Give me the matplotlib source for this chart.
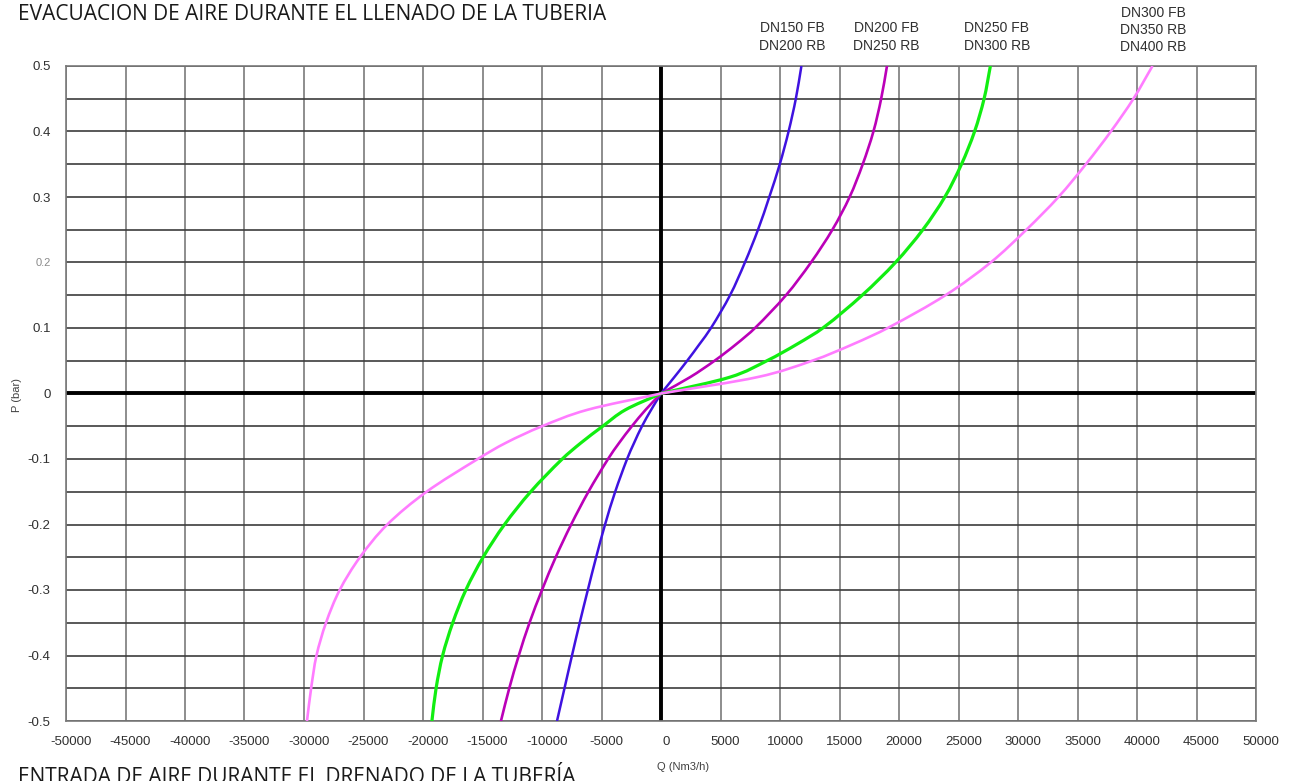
"""Curva de caudal de aire de ventosas: evacuación (P>0) y entrada (P<0)."""

import matplotlib

matplotlib.use("Agg")
import matplotlib.pyplot as plt
from matplotlib.path import Path
from matplotlib.patches import PathPatch
from matplotlib.transforms import ScaledTranslation

# ── Datos ─────────────────────────────────────────────────────────

P_LEVELS = [0, 0.025, 0.05, 0.075, 0.1, 0.15, 0.2, 0.25, 0.3, 0.35, 0.4, 0.45, 0.5]

# Q (Nm3/h) en cada nivel de presión, evacuación (P positiva)
Q_POS_DN150 = [0, 1120, 2200, 3220, 4200, 5800, 7050, 8150, 9100, 9980, 10720, 11330, 11800]
Q_POS_DN200 = [0, 2450, 4500, 6300, 7900, 10500, 12600, 14400, 15850, 16950, 17850, 18500, 18990]
Q_POS_DN250 = [0, 5800, 8900, 11400, 13600, 16900, 19700, 22000, 23850, 25250, 26350, 27150, 27680]
Q_POS_DN300 = [0, 8100, 12700, 16100, 19050, 23900, 27700, 30700, 33400, 35700, 37800, 39700, 41300]

# Q (Nm3/h) en cada nivel de depresión, entrada (P negativa)
Q_NEG_DN150 = [0, -830, -1600, -2250, -2850, -3850, -4700, -5450, -6150, -6830, -7480, -8110, -8740]
Q_NEG_DN200 = [0, -1300, -2450, -3500, -4450, -6100, -7550, -8850, -10000, -11050, -11950, -12750, -13450]
Q_NEG_DN250 = [0, -3000, -4900, -6700, -8300, -10950, -13150, -14950, -16400, -17500, -18350, -18900, -19250]
Q_NEG_DN300 = [0, -6200, -10000, -13000, -15400, -19700, -23000, -25300, -27000, -28150, -28950, -29400, -29750]

SERIES_LABELS = ["DN150 FB\nDN200 RB", "DN200 FB\nDN250 RB", "DN250 FB\nDN300 RB",
                 "DN300 FB\nDN350 RB\nDN400 RB"]

X_TICKS = list(range(-50000, 50001, 5000))
X_TICK_LABELS = [str(v) for v in X_TICKS]
Y_TICKS = [0.5, 0.4, 0.3, 0.2, 0.1, 0, -0.1, -0.2, -0.3, -0.4, -0.5]
Y_TICK_LABELS = ["0.5", "0.4", "0.3", "0.2", "0.1", "0", "-0.1", "-0.2", "-0.3", "-0.4", "-0.5"]

TITLE_TOP = "EVACUACION DE AIRE DURANTE EL LLENADO DE LA TUBERIA"
TITLE_BOTTOM = "ENTRADA DE AIRE DURANTE EL DRENADO DE LA TUBERÍA"

COLORS = ["#3f12e0", "#bb00b8", "#11ee11", "#ff7cff"]
WIDTHS = [1.8, 1.9, 2.3, 1.9]

W, H = 1296, 781


def fx(px):
    return px / W


def fy(py):
    return 1 - py / H


def smooth_path(q, p):
    """Curva suave (Hermite en P) que pasa por los puntos leídos."""
    t = [abs(v) for v in p]
    n = len(q)
    slopes = []
    for i in range(n):
        a, b = max(i - 1, 0), min(i + 1, n - 1)
        dt = t[b] - t[a]
        slopes.append(((q[b] - q[a]) / dt, (p[b] - p[a]) / dt))
    verts = [(q[0], p[0])]
    codes = [Path.MOVETO]
    for i in range(n - 1):
        h = (t[i + 1] - t[i]) / 3
        verts += [
            (q[i] + slopes[i][0] * h, p[i] + slopes[i][1] * h),
            (q[i + 1] - slopes[i + 1][0] * h, p[i + 1] - slopes[i + 1][1] * h),
            (q[i + 1], p[i + 1]),
        ]
        codes += [Path.CURVE4] * 3
    return Path(verts, codes)


def main():
    fig = plt.figure(figsize=(W / 100, H / 100), dpi=100)
    ax = fig.add_axes([fx(66), fy(721), fx(1256) - fx(66), fy(66) - fy(721)])

    ax.set_xlim(-50000, 50000)
    ax.set_ylim(-0.5, 0.5)

    # rejilla: horizontales oscuras cada 0.05, verticales grises cada 5000
    for v in X_TICKS:
        ax.axvline(v, color="#7a7a7a", lw=1.2, zorder=1)
    for i in range(-10, 11):
        ax.axhline(i * 0.05, color="#3c3c3c", lw=1.2, zorder=1)

    ax.axhline(0, color="black", lw=2.8, zorder=2)
    ax.axvline(0, color="black", lw=2.8, zorder=2)

    pos = [Q_POS_DN150, Q_POS_DN200, Q_POS_DN250, Q_POS_DN300]
    neg = [Q_NEG_DN150, Q_NEG_DN200, Q_NEG_DN250, Q_NEG_DN300]
    p_neg = [-p for p in P_LEVELS]
    for qp, qn, c, lw in zip(pos, neg, COLORS, WIDTHS):
        for qq, pp in ((qp, P_LEVELS), (qn, p_neg)):
            ax.add_patch(PathPatch(smooth_path(qq, pp), fill=False, edgecolor=c,
                                   lw=lw, zorder=3, capstyle="butt"))

    for s in ax.spines.values():
        s.set_color("#7a7a7a")
        s.set_linewidth(1.2)

    ax.set_xticks(X_TICKS)
    ax.set_xticklabels(X_TICK_LABELS, fontsize=9.5, color="#303030", family="Liberation Sans")
    ax.set_yticks(Y_TICKS)
    ax.set_yticklabels(Y_TICK_LABELS, fontsize=9.5, color="#303030", family="Liberation Sans")
    ax.tick_params(length=0, pad=11)
    # las etiquetas del original quedan algo desplazadas a la derecha
    shift = ScaledTranslation(5 / 100, 0, fig.dpi_scale_trans)
    for lbl in ax.get_xticklabels():
        lbl.set_transform(lbl.get_transform() + shift)
    for lbl in ax.get_yticklabels():
        if lbl.get_text() == "0.2":
            lbl.set_color("#8a8a8a")
            lbl.set_fontsize(8)

    # etiquetas de cada curva encima del gráfico
    label_x = [792, 886, 997, 1153]
    label_y = [37, 37, 37, 30]
    for t, x, y in zip(SERIES_LABELS, label_x, label_y):
        fig.text(fx(x), fy(y), t, ha="center", va="center", fontsize=10,
                 color="#303030", family="Liberation Sans", linespacing=1.3)

    fig.text(fx(18), fy(20), TITLE_TOP, ha="left", va="baseline", fontsize=15,
             color="#1a1a1a", family="Open Sans")
    fig.text(fx(18), fy(783), TITLE_BOTTOM, ha="left", va="baseline", fontsize=15,
             color="#1a1a1a", family="Open Sans")

    fig.text(fx(683), fy(767), "Q (Nm3/h)", ha="center", va="center", fontsize=8,
             color="#404040", family="Liberation Sans")
    fig.text(fx(17), fy(395), "P (bar)", ha="center", va="center", fontsize=8,
             color="#404040", family="Liberation Sans", rotation=90)

    fig.savefig("out.png", dpi=100)
    plt.close(fig)


if __name__ == "__main__":
    main()
